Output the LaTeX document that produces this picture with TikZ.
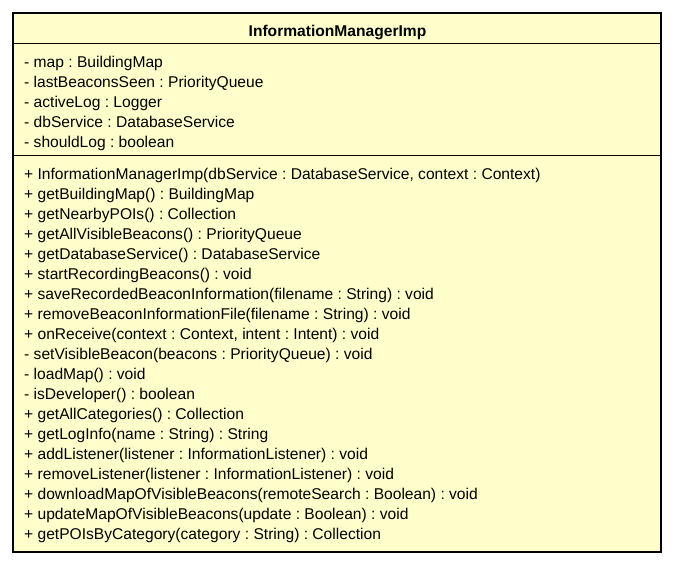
\documentclass[tikz,border=0pt]{standalone}
\usepackage{fontspec}
\setmainfont{Liberation Sans}
\frenchspacing
\definecolor{classfill}{HTML}{FFFFCC}
\tikzset{
  member/.style={anchor=base west, inner sep=0pt, font=\fontsize{15.6}{18}\selectfont},
  titletext/.style={anchor=base, inner sep=0pt, font=\fontsize{15.6}{18}\selectfont\bfseries},
  classbox/.style={draw=black, fill=classfill, line width=2.5pt},
  sepline/.style={draw=black, line width=1.1pt}
}
\begin{document}
\begin{tikzpicture}[x=1pt,y=-1pt]
\useasboundingbox (0,0) rectangle (674,565);
\draw[classbox] (13,13) rectangle (661,552);
\coordinate (s1l) at (13,43.5);
\coordinate (s1r) at (661,43.5);
\coordinate (s2l) at (13,155.5);
\coordinate (s2r) at (661,155.5);
\draw[sepline] (s1l) -- (s1r);
\draw[sepline] (s2l) -- (s2r);
\node[titletext] (title) at (337.5,36) {InformationManagerImp};
\node[member] (a1) at (24,67) {- map : BuildingMap};
\node[member] (a2) at (24,87) {- lastBeaconsSeen : PriorityQueue};
\node[member] (a3) at (24,107) {- activeLog : Logger};
\node[member] (a4) at (24,127) {- dbService : DatabaseService};
\node[member] (a5) at (24,147) {- shouldLog : boolean};
\node[member] (m1) at (24,179) {+ InformationManagerImp(dbService : DatabaseService, context : Context)};
\node[member] (m2) at (24,199) {+ getBuildingMap() : BuildingMap};
\node[member] (m3) at (24,219) {+ getNearbyPOIs() : Collection};
\node[member] (m4) at (24,239) {+ getAllVisibleBeacons() : PriorityQueue};
\node[member] (m5) at (24,259) {+ getDatabaseService() : DatabaseService};
\node[member] (m6) at (24,279) {+ startRecordingBeacons() : void};
\node[member] (m7) at (24,299) {+ saveRecordedBeaconInformation(filename : String) : void};
\node[member] (m8) at (24,319) {+ removeBeaconInformationFile(filename : String) : void};
\node[member] (m9) at (24,339) {+ onReceive(context : Context, intent : Intent) : void};
\node[member] (m10) at (24,359) {- setVisibleBeacon(beacons : PriorityQueue) : void};
\node[member] (m11) at (24,379) {- loadMap() : void};
\node[member] (m12) at (24,399) {- isDeveloper() : boolean};
\node[member] (m13) at (24,419) {+ getAllCategories() : Collection};
\node[member] (m14) at (24,439) {+ getLogInfo(name : String) : String};
\node[member] (m15) at (24,459) {+ addListener(listener : InformationListener) : void};
\node[member] (m16) at (24,479) {+ removeListener(listener : InformationListener) : void};
\node[member] (m17) at (24,499) {+ downloadMapOfVisibleBeacons(remoteSearch : Boolean) : void};
\node[member] (m18) at (24,519) {+ updateMapOfVisibleBeacons(update : Boolean) : void};
\node[member] (m19) at (24,539) {+ getPOIsByCategory(category : String) : Collection};
\end{tikzpicture}
\end{document}
